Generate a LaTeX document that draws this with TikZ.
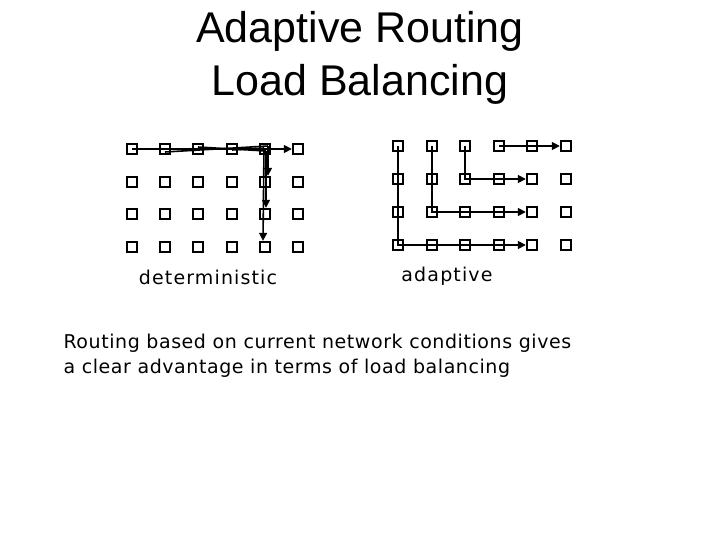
\documentclass[tikz,border=0pt]{standalone}
\usepackage{fontspec}
\setmainfont{Liberation Sans}
\newfontfamily\dv[LetterSpace=6]{DejaVu Sans}
\newfontfamily\dvb[LetterSpace=3]{DejaVu Sans}
\usetikzlibrary{arrows.meta}
\begin{document}
\begin{tikzpicture}[x=1pt,y=-1pt,
  sq/.style={draw,line width=2.4pt,minimum size=10pt,inner sep=0pt},
  pth/.style={line width=1.6pt,-{Triangle[length=8pt,width=8pt]}},
  pl/.style={line width=1.6pt}]
\useasboundingbox (0,0) rectangle (720,540);
\node[font=\fontsize{43}{53}\selectfont,align=center] (title) at (360,58) {Adaptive Routing\\Load Balancing};
\foreach \c/\x in {0/132,1/165,2/198,3/232,4/265,5/298}
  \foreach \r/\y in {0/149,1/182,2/214,3/247}
    \node[sq] (L\c\r) at (\x,\y) {};
\foreach \c/\x in {0/398,1/432,2/465,3/499,4/532,5/566}
  \foreach \r/\y in {0/146,1/179,2/212,3/245}
    \node[sq] (R\c\r) at (\x,\y) {};
% deterministic
\draw[pth] (L00.center) -- (L50.west);
\draw[pl] (L10.center) ++(0,3) -- ([xshift=3pt,yshift=3pt]L40.center) coordinate (d1);
\draw[pth] (d1) -- ([xshift=3pt]L41.north);
\draw[pl] (L20.center) ++(0,-2) -- ([xshift=1pt,yshift=-2pt]L40.center) coordinate (d2);
\draw[pth] (d2) -- ([xshift=1pt]L42.north);
\draw[pl] (L30.center) ++(0,1) -- ([xshift=-1pt,yshift=1pt]L40.center) coordinate (d3);
\draw[pth] (d3) -- ([xshift=-2pt]L43.north);
\node[font=\dv\fontsize{19}{22}\selectfont] (det) at (208,277) {deterministic};
% adaptive
\draw[pth] (R00.center) -- (R03.center) -- (R43.west);
\draw[pth] (R10.center) -- (R12.center) -- (R42.west);
\draw[pth] (R20.center) -- (R21.center) -- (R41.west);
\draw[pth] (R30.center) -- (R50.west);
\node[font=\dv\fontsize{19}{22}\selectfont] (ad) at (447,276) {adaptive};
\node[font=\dvb\fontsize{19}{25}\selectfont,align=left,anchor=north west] (txt) at (60,331)
 {Routing based on current network conditions gives\\a clear advantage in terms of load balancing};
\end{tikzpicture}
\end{document}
